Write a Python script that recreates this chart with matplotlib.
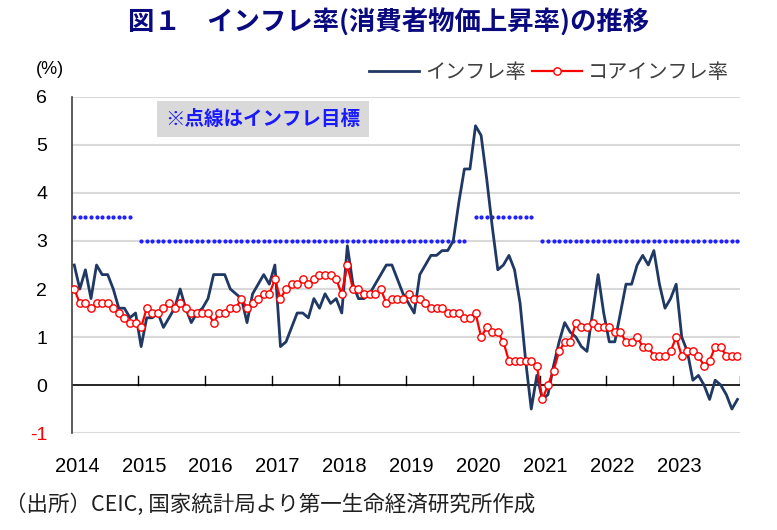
import numpy as np
import matplotlib
matplotlib.use("Agg")
import matplotlib.pyplot as plt
from matplotlib.lines import Line2D

# monthly data, Jan 2014 - Dec 2023 (% y/y)
years = [2014, 2015, 2016, 2017, 2018, 2019, 2020, 2021, 2022, 2023]

cpi = [
    2.5, 2.0, 2.4, 1.8, 2.5, 2.3, 2.3, 2.0, 1.6, 1.6, 1.4, 1.5,    # 2014
    0.8, 1.4, 1.4, 1.5, 1.2, 1.4, 1.6, 2.0, 1.6, 1.3, 1.5, 1.6,    # 2015
    1.8, 2.3, 2.3, 2.3, 2.0, 1.9, 1.8, 1.3, 1.9, 2.1, 2.3, 2.1,    # 2016
    2.5, 0.8, 0.9, 1.2, 1.5, 1.5, 1.4, 1.8, 1.6, 1.9, 1.7, 1.8,    # 2017
    1.5, 2.9, 2.1, 1.8, 1.8, 1.9, 2.1, 2.3, 2.5, 2.5, 2.2, 1.9,    # 2018
    1.7, 1.5, 2.3, 2.5, 2.7, 2.7, 2.8, 2.8, 3.0, 3.8, 4.5, 4.5,    # 2019
    5.4, 5.2, 4.3, 3.3, 2.4, 2.5, 2.7, 2.4, 1.7, 0.5, -0.5, 0.2,   # 2020
    -0.3, -0.2, 0.4, 0.9, 1.3, 1.1, 1.0, 0.8, 0.7, 1.5, 2.3, 1.5,  # 2021
    0.9, 0.9, 1.5, 2.1, 2.1, 2.5, 2.7, 2.5, 2.8, 2.1, 1.6, 1.8,    # 2022
    2.1, 1.0, 0.7, 0.1, 0.2, 0.0, -0.3, 0.1, 0.0, -0.2, -0.5, -0.3,  # 2023
]

core = [
    2.0, 1.7, 1.7, 1.6, 1.7, 1.7, 1.7, 1.6, 1.5, 1.4, 1.3, 1.3,    # 2014
    1.2, 1.6, 1.5, 1.5, 1.6, 1.7, 1.6, 1.7, 1.6, 1.5, 1.5, 1.5,    # 2015
    1.5, 1.3, 1.5, 1.5, 1.6, 1.6, 1.8, 1.6, 1.7, 1.8, 1.9, 1.9,    # 2016
    2.2, 1.8, 2.0, 2.1, 2.1, 2.2, 2.1, 2.2, 2.3, 2.3, 2.3, 2.2,    # 2017
    1.9, 2.5, 2.0, 2.0, 1.9, 1.9, 1.9, 2.0, 1.7, 1.8, 1.8, 1.8,    # 2018
    1.9, 1.8, 1.8, 1.7, 1.6, 1.6, 1.6, 1.5, 1.5, 1.5, 1.4, 1.4,    # 2019
    1.5, 1.0, 1.2, 1.1, 1.1, 0.9, 0.5, 0.5, 0.5, 0.5, 0.5, 0.4,    # 2020
    -0.3, 0.0, 0.3, 0.7, 0.9, 0.9, 1.3, 1.2, 1.2, 1.3, 1.2, 1.2,   # 2021
    1.2, 1.1, 1.1, 0.9, 0.9, 1.0, 0.8, 0.8, 0.6, 0.6, 0.6, 0.7,    # 2022
    1.0, 0.6, 0.7, 0.7, 0.6, 0.4, 0.5, 0.8, 0.8, 0.6, 0.6, 0.6,    # 2023
]

# inflation targets: (first month index, last month index, target %)
target_segments = [(0, 10, 3.5), (12, 70, 3.0), (72, 82, 3.5), (84, 119, 3.0)]

navy = '#1F3864'
red = '#FF0000'
cjk = ['Noto Sans CJK JP', 'DejaVu Sans']
num_font = ['Liberation Sans', 'DejaVu Sans']

plt.rcParams['font.family'] = cjk

fig = plt.figure(figsize=(7.77, 5.30), dpi=100)
ax = fig.add_axes([0.0927, 0.183, 0.860, 0.634])

x = np.arange(len(cpi))

# grid + zero line
for v in range(-1, 7):
    if v == 0:
        continue
    ax.axhline(v, color='#D9D9D9', lw=1.5, zorder=0)
ax.axhline(0, color='black', lw=1.2, zorder=1)

# year tick marks sitting on the zero line
for k in range(1, len(years) + 1):
    ax.plot([12 * k - 0.5, 12 * k - 0.5], [0, 0.19], color='black', lw=1.0, zorder=1)

# inflation target dots
for start, end, val in target_segments:
    m = np.arange(start, end + 1)
    ax.plot(m, np.full(len(m), val), linestyle='none', marker='o', markersize=2.0,
            color='#1F1FFF', zorder=2)

ax.plot(x, cpi, color=navy, lw=2.0, zorder=3)
ax.plot(x, core, color=red, lw=1.6, marker='o', markersize=5.3,
        markerfacecolor='white', markeredgecolor=red, markeredgewidth=1.0, zorder=4)

ax.set_xlim(-0.4, 119.5)
ax.set_ylim(-1, 6)

for s in ['top', 'right', 'bottom']:
    ax.spines[s].set_visible(False)
ax.spines['left'].set_color('#404040')
ax.spines['left'].set_linewidth(1.2)

ax.set_yticks(range(-1, 7))
ax.set_yticklabels([str(v) for v in range(-1, 7)], family=num_font, fontsize=14)
ax.tick_params(axis='y', length=0, pad=18)
ax.get_yticklabels()[0].set_color('#FF0000')

ax.set_xticks([12 * i + 0.5 for i in range(len(years))])
ax.set_xticklabels([str(y) for y in years], family=num_font, fontsize=14.5)
ax.tick_params(axis='x', length=0, pad=17)

# "(%)" unit label
fig.text(50 / 777, 1 - 70 / 530, '(%)', ha='center', va='center',
         fontsize=13, family=num_font)

# note box
ax.text(0.286, 0.934, '※点線はインフレ目標', transform=ax.transAxes,
        ha='center', va='center', fontsize=14, fontweight='bold', color='#1A1AFF',
        bbox=dict(boxstyle='square,pad=0.45', facecolor='#D9D9D9', edgecolor='none'),
        zorder=5)

# legend
handles = [
    Line2D([], [], color=navy, lw=2.0),
    Line2D([], [], color=red, lw=1.6, marker='o', markersize=5.3,
           markerfacecolor='white', markeredgecolor=red),
]
leg = ax.legend(handles, ['インフレ率', 'コアインフレ率'], loc='center right',
                bbox_to_anchor=(0.995, 1.074), ncol=2, frameon=False, fontsize=14.5,
                handlelength=2.5, handletextpad=0.3, columnspacing=0.3,
                borderaxespad=0)
for t in leg.get_texts():
    t.set_color('#404040')

# title and source
fig.text(0.5, 1 - 23 / 530, '図１　インフレ率(消費者物価上昇率)の推移', ha='center',
         va='center', fontsize=19, fontweight='bold', color='#0A0A80')
fig.text(5 / 777, 1 - 505 / 530, '（出所）CEIC, 国家統計局より第一生命経済研究所作成',
         ha='left', va='center', fontsize=15.5, color='#202020')

fig.savefig('out.png', dpi=100)
